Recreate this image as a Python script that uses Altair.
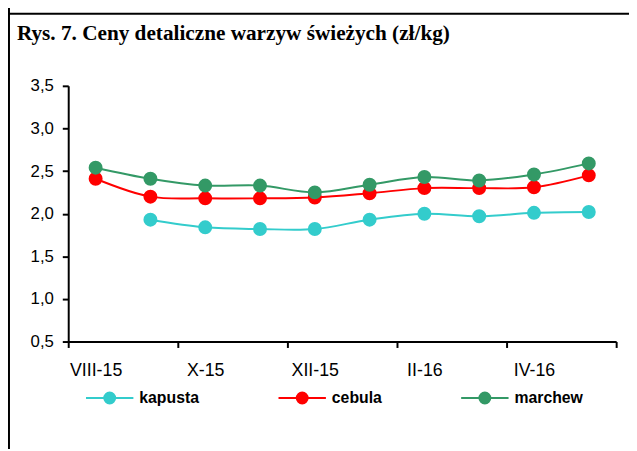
import json
import altair as alt
import pandas as pd

# ---- data ----
title_text = "Rys. 7. Ceny detaliczne warzyw świeżych (zł/kg)"
months = ["VIII-15", "IX-15", "X-15", "XI-15", "XII-15", "I-16", "II-16", "III-16", "IV-16", "V-16"]
series = ["kapusta", "cebula", "marchew"]
colors = ["#33CCCC", "#FF0000", "#339966"]
kapusta = [None, 1.93, 1.84, 1.82, 1.82, 1.93, 2.00, 1.97, 2.01, 2.02]
cebula = [2.41, 2.20, 2.18, 2.18, 2.19, 2.24, 2.30, 2.30, 2.31, 2.45]
marchew = [2.54, 2.41, 2.33, 2.33, 2.25, 2.34, 2.43, 2.39, 2.46, 2.59]
y_ticks = [0.5, 1.0, 1.5, 2.0, 2.5, 3.0, 3.5]

rows = []
for name, vals in zip(series, [kapusta, cebula, marchew]):
    for i, v in enumerate(vals):
        if v is not None:
            rows.append({"series": name, "idx": i, "month": months[i], "value": v})
df = pd.DataFrame(rows)

W, H = 555, 259
x_tick_vals = [i - 0.5 for i in range(0, len(months) + 1, 2)]
label_expr = json.dumps(months) + "[round(datum.value + 0.5)] || ''"

x_enc = alt.X(
    "idx:Q",
    scale=alt.Scale(domain=[-0.5, len(months) - 0.5], nice=False, zero=False),
    axis=alt.Axis(
        values=x_tick_vals,
        labelExpr=label_expr,
        labelOffset=W / len(months) / 2,
        labelAlign="center",
        labelFlush=False,
        labelOverlap=False,
        tickSize=6,
        labelPadding=14,
        labelFontSize=18,
        title=None,
        grid=False,
    ),
)
y_enc = alt.Y(
    "value:Q",
    scale=alt.Scale(domain=[0.5, 3.5], nice=False, zero=False),
    axis=alt.Axis(
        values=y_ticks,
        labelExpr="replace(format(datum.value, '.1f'), '.', ',')",
        tickSize=6,
        labelPadding=9,
        labelFontSize=17,
        title=None,
        grid=False,
    ),
)

sym_path = ("M-1,0L1,0M0.23,0A0.23,0.23,0,1,1,-0.23,0A0.23,0.23,0,1,1,0.23,0Z")
leg = alt.Legend(
    title=None,
    orient="none",
    legendX=17,
    legendY=291,
    direction="horizontal",
    columnPadding=76,
    symbolType=sym_path,
    symbolSize=2304,
    symbolStrokeWidth=2,
    labelOffset=5,
    labelFont="Liberation Sans",
    labelFontWeight="bold",
    labelFontSize=16,
    labelColor="black",
)
col_scale = alt.Scale(domain=series, range=colors)

base = alt.Chart(df)
lines = base.mark_line(strokeWidth=2, interpolate="catmull-rom").encode(
    x=x_enc, y=y_enc,
    stroke=alt.Stroke("series:N", scale=col_scale, legend=leg, sort=series),
)
points = base.mark_point(filled=True, size=200, opacity=1).encode(
    x=x_enc, y=y_enc,
    fill=alt.Fill("series:N", scale=col_scale, legend=leg, sort=series),
)

one = alt.Chart(pd.DataFrame({"t": [title_text]}))
title = one.mark_text(
    align="left", baseline="alphabetic", font="Liberation Serif",
    fontWeight="bold", fontSize=21.5, color="black",
).encode(x=alt.value(-52), y=alt.value(-46), text="t:N")
frame_v = one.mark_rule(color="black", strokeWidth=2).encode(
    x=alt.value(-60), y=alt.value(-80), y2=alt.value(380)
)
frame_h = one.mark_rule(color="black", strokeWidth=2).encode(
    x=alt.value(-61), x2=alt.value(580), y=alt.value(-73)
)

chart = alt.layer(frame_v, frame_h, title, lines, points).properties(
    width=W, height=H,
    autosize=alt.AutoSizeParams(type="none"),
    padding={"left": 61, "top": 76, "right": 13, "bottom": 106},
    background="white",
).configure_view(stroke=None).configure_axis(
    domainColor="black", domainWidth=2, tickColor="black", tickWidth=2,
    labelColor="black", labelFont="Liberation Sans",
)

chart.save("out.html", embed_options={"renderer": "svg", "actions": False})
